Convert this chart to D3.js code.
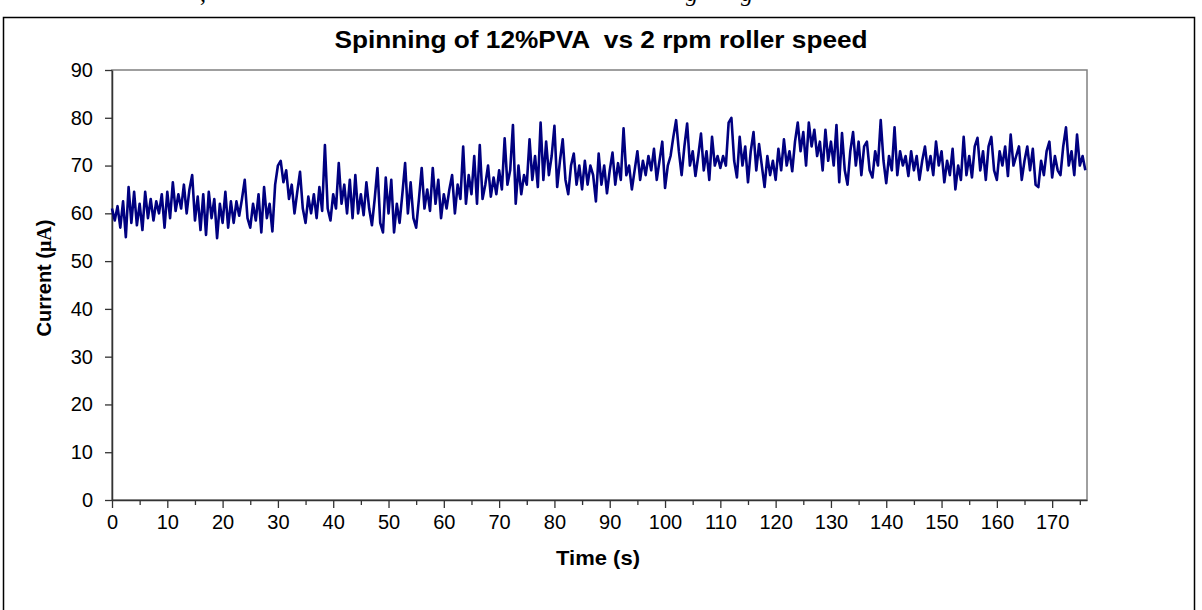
<!DOCTYPE html>
<html>
<head>
<meta charset="utf-8">
<script src="https://cdn.jsdelivr.net/npm/d3@7"></script>
<style>
  body { margin: 0; background: #fff; }
  svg { display: block; }
</style>
</head>
<body>
<svg id="chart" width="1202" height="610"></svg>
<script>
// ── Data (0.5 s sampling) ─────────────────────────────────────────────────────
const chartTitle = "Spinning of 12%PVA  vs 2 rpm roller speed";
const xTitle = "Time (s)";
const yTicks = [0, 10, 20, 30, 40, 50, 60, 70, 80, 90];
const xTicks = [0, 10, 20, 30, 40, 50, 60, 70, 80, 90, 100, 110, 120, 130, 140, 150, 160, 170];
const xMinorTicks = [5, 15, 25, 35, 45, 55, 65, 75, 85, 95, 105, 115, 125, 135, 145, 155, 165, 175];
const sampleStep = 0.5;

const current0to22 = [61, 58.5, 61.5, 57, 62.5, 55, 65.5, 58, 64.5, 57.5, 62, 56.5, 64.5, 59, 63, 58.5, 62.5, 60, 64, 57,
  64.5, 59, 66.5, 60.5, 64, 61, 66, 60, 65, 68, 58.5, 63.5, 56.5, 64, 55.5, 64.5, 59, 63, 54.8, 62, 58, 64.5, 57, 62.5];
const current22to44 = [58, 62.5, 59.5, 63, 67, 59, 57, 62, 58.5, 64, 56, 65.5, 59, 62, 56.2, 66, 70, 71, 66.5, 69,
  63, 66, 60, 64.5, 68.7, 61, 58, 63.5, 60, 64, 59, 65.5, 60.5, 74.3, 61, 58.5, 64, 61, 70.5, 62, 66, 60, 67, 59];
const current44to66 = [68, 60, 64, 59.6, 66.5, 61, 57.5, 63, 69.5, 58, 56, 67.5, 60, 67, 56, 62, 58, 64, 70.5, 60,
  66.5, 59, 57, 63, 69.5, 61, 65, 60.5, 69.5, 62, 67, 59, 64, 61, 65, 68, 60, 66, 63, 74, 62, 68, 64, 72];
const current66to88 = [62, 74.3, 63, 66, 70, 63.5, 67.5, 64, 69, 65, 75.7, 66, 69, 78.5, 62, 70, 64, 68, 66, 75.5,
  67, 72, 65.5, 79, 67, 75, 68, 72, 78.3, 65.5, 71, 75.5, 67, 64, 70, 72.5, 66, 70, 65, 71, 66, 70, 68, 62.5];
const current88to110 = [72.5, 66, 70, 64.2, 69, 72.7, 66, 70.5, 67, 77.8, 68, 70, 65, 69, 73, 67, 71, 68, 72, 69,
  73.5, 67, 71, 75, 65.3, 70, 72, 76, 79.5, 73, 68, 74, 78.8, 70, 73, 67.8, 72, 76.7, 69, 73, 67, 76, 70, 72];
const current110to132 = [69.5, 72, 70, 79, 80, 71, 67.5, 76, 70, 74, 66.5, 73, 77, 69, 74.5, 70, 65.5, 72, 68, 71,
  67, 73.5, 69, 75.5, 70, 73, 68.8, 75, 79, 73, 77, 70, 79, 74, 77.5, 72, 75, 69, 77.5, 71, 75, 70, 78.5, 66.5];
const current132to154 = [76.8, 69, 66, 73, 77, 70, 75, 68, 74, 75, 69, 67.5, 73, 70, 79.5, 71, 66.3, 72, 69, 78,
  68, 73, 70, 72, 67.8, 73, 69, 72, 67, 71, 74, 69, 72, 68, 75, 70, 73, 66.5, 71, 68, 73.5, 65, 70, 67];
const current154to176 = [76, 68, 72, 67.5, 74, 75.8, 69, 73, 67, 74, 76, 69, 67, 73, 70, 74, 67.8, 76.5, 70, 72,
  74, 67, 71, 74, 69, 73.5, 66, 65.5, 71, 68, 73, 75, 67.5, 72, 69, 68, 74, 78, 70, 73, 68, 76.5, 70, 72, 69];

const segments = [
  { start: 0, values: current0to22 },
  { start: 22, values: current22to44 },
  { start: 44, values: current44to66 },
  { start: 66, values: current66to88 },
  { start: 88, values: current88to110 },
  { start: 110, values: current110to132 },
  { start: 132, values: current132to154 },
  { start: 154, values: current154to176 },
];

const points = segments.flatMap((s) =>
  s.values.map((v, i) => ({ t: s.start + i * sampleStep, v })));

// ── Layout ────────────────────────────────────────────────────────────────────
const plot = { left: 112, right: 1087, top: 70, bottom: 500 };
const FONT = "'Liberation Sans', Arial, sans-serif";
const SERIF = "'Liberation Serif', 'Times New Roman', serif";

const svg = d3.select("#chart");

// cut-off line of the page text above the chart (only descenders show)
[[200, ","], [686, "g"], [741, "g"]].forEach(([px, s]) => {
  svg.append("text").attr("x", px).attr("y", 1)
    .attr("font-family", SERIF).attr("font-size", 24).attr("font-style", "italic")
    .text(s);
});

// outer chart frame (runs off the bottom of the page)
svg.append("rect")
  .attr("x", 3.5).attr("y", 17.5)
  .attr("width", 1191).attr("height", 620)
  .attr("fill", "#fff")
  .attr("stroke", "#000").attr("stroke-width", 1.5);

const x = d3.scaleLinear().domain([0, 176.3]).range([plot.left, plot.right]);
const y = d3.scaleLinear().domain([0, 90]).range([plot.bottom, plot.top]);

// plot area border (grey top/right)
svg.append("rect")
  .attr("x", plot.left).attr("y", plot.top)
  .attr("width", plot.right - plot.left).attr("height", plot.bottom - plot.top)
  .attr("fill", "none")
  .attr("stroke", "#808080").attr("stroke-width", 1.5);

// ── Axes ──────────────────────────────────────────────────────────────────────
svg.append("g")
  .attr("transform", `translate(${plot.left},0)`)
  .call(d3.axisLeft(y).tickValues(yTicks).tickSize(7).tickPadding(12).tickSizeOuter(0));

svg.append("g")
  .attr("transform", `translate(0,${plot.bottom})`)
  .call(d3.axisBottom(x).tickValues(xTicks).tickSize(8).tickPadding(7).tickSizeOuter(0));

svg.append("g")
  .attr("transform", `translate(0,${plot.bottom})`)
  .call(d3.axisBottom(x).tickValues(xMinorTicks).tickSize(5).tickFormat("").tickSizeOuter(0))
  .call((g) => g.select(".domain").remove());

svg.selectAll(".domain").attr("stroke", "#333").attr("stroke-width", 1.5);
svg.selectAll(".tick line").attr("stroke", "#333").attr("stroke-width", 1.3);
svg.selectAll(".tick text")
  .attr("font-family", FONT).attr("font-size", 20).attr("fill", "#000");

// ── Series ────────────────────────────────────────────────────────────────────
const line = d3.line().x((d) => x(d.t)).y((d) => y(d.v));

svg.append("path")
  .datum(points)
  .attr("d", line)
  .attr("fill", "none")
  .attr("stroke", "#000080")
  .attr("stroke-width", 2.6)
  .attr("stroke-linejoin", "round");

// ── Titles ────────────────────────────────────────────────────────────────────
svg.append("text")
  .attr("transform", "translate(601,48) scale(1.14,1)")
  .attr("text-anchor", "middle")
  .attr("font-family", FONT).attr("font-weight", "bold").attr("font-size", 23)
  .style("white-space", "pre")
  .text(chartTitle);

svg.append("text")
  .attr("transform", "translate(598,565) scale(1.1,1)")
  .attr("text-anchor", "middle")
  .attr("font-family", FONT).attr("font-weight", "bold").attr("font-size", 20)
  .text(xTitle);

const yTitle = svg.append("text")
  .attr("transform", "translate(51,278) rotate(-90)")
  .attr("text-anchor", "middle")
  .attr("font-family", FONT).attr("font-weight", "bold").attr("font-size", 20);
yTitle.append("tspan").text("Current (");
yTitle.append("tspan").attr("font-family", SERIF).text("μA");
yTitle.append("tspan").text(")");
</script>
</body>
</html>
